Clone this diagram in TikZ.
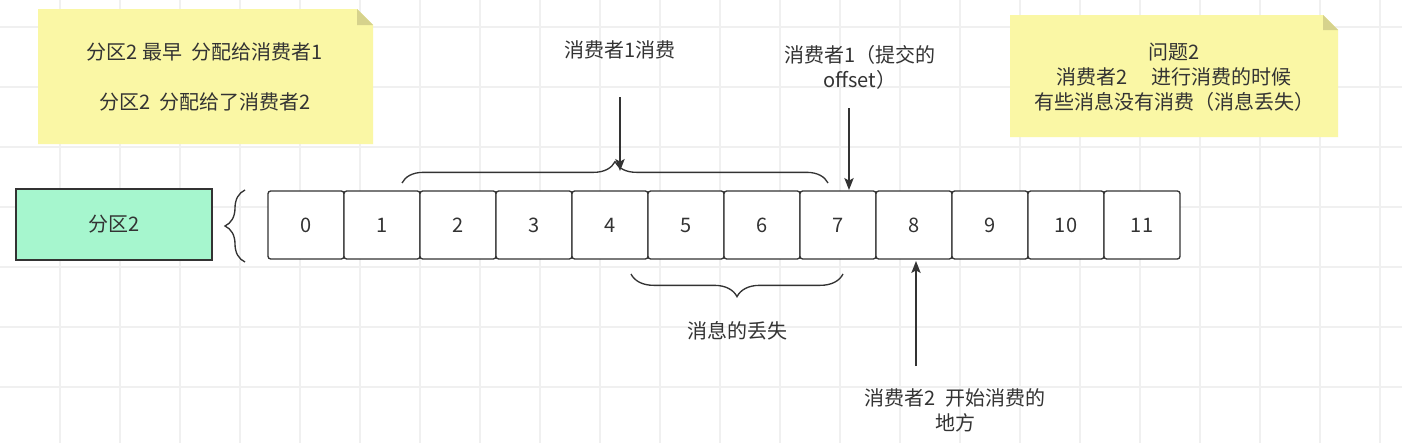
\documentclass[tikz,border=0pt]{standalone}
\usepackage{fontspec}
\setmainfont{Noto Sans CJK SC}
\usetikzlibrary{decorations.pathreplacing,arrows.meta}
\definecolor{notey}{RGB}{250,247,165}
\definecolor{notefold}{RGB}{214,210,140}
\definecolor{mint}{RGB}{166,246,206}
\definecolor{ink}{RGB}{51,51,51}
\definecolor{gridc}{RGB}{240,240,240}
\begin{document}
\begin{tikzpicture}[x=0.75pt,y=-0.75pt,
  font=\fontsize{15}{18.75}\selectfont, text=ink,
  cell/.style={draw=ink, fill=white, rounded corners=2pt, minimum width=57pt, minimum height=51pt, inner sep=0pt, line width=1pt},
  arr/.style={draw=ink, line width=1pt, -{Stealth[length=9pt,width=7pt,inset=2pt]}},
  brc/.style={draw=ink, line width=1pt, decorate},
  lbl/.style={align=center, inner sep=0pt}]
\useasboundingbox (0,0) rectangle (1402,443);
\fill[white] (0,0) rectangle (1402,443);
% grid
\foreach \x in {60,120,...,1380} \draw[gridc, line width=0.8pt] (\x,0) -- (\x,443);
\foreach \y in {27,87,...,387} \draw[gridc, line width=0.8pt] (0,\y) -- (1402,\y);
% notes
\fill[notey] (38,9) -- (357,9) -- (373,25) -- (373,144) -- (38,144) -- cycle;
\fill[notefold] (357,9) -- (357,25) -- (373,25) -- cycle;
\node[lbl] (n1) at (205,77) {分区2\ 最早\hspace{7pt}分配给消费者1\\[18.75pt]分区2\hspace{7pt}分配给了消费者2};
\fill[notey] (1010,15) -- (1323,15) -- (1338,30) -- (1338,137) -- (1010,137) -- cycle;
\fill[notefold] (1323,15) -- (1323,30) -- (1338,30) -- cycle;
\node[lbl] (n2) at (1174,77) {问题2\\消费者2\hspace{18pt}进行消费的时候\\有些消息没有消费（消息丢失）};
% partition box
\node[draw=ink, fill=mint, line width=1pt, minimum width=147pt, minimum height=53.25pt, inner sep=0pt] (p) at (114,224.5) {分区2};
% cells
\foreach \i in {0,...,11} \node[cell] (b\i) at ({306+76*\i},225) {\i};
% braces
\draw[brc, decoration={brace, amplitude=15pt}] (245,262) -- (245,190);
\draw[brc, decoration={brace, amplitude=16pt}] (402,183) -- (828,183);
\draw[brc, decoration={brace, amplitude=17pt}] (843,274) -- (631,274);
% labels
\node[lbl] (l1) at (620,50) {消费者1消费};
\node[lbl] (l2) at (860,67) {消费者1（提交的\\offset）};
\node[lbl] (l3) at (737,331) {消息的丢失};
\node[lbl] (l4) at (955,410) {消费者2\hspace{7pt}开始消费的\\地方};
% arrows
\coordinate (a1s) at (620,97);
\coordinate (a1e) at (620,171);
\draw[arr] (a1s) -- (a1e);
\coordinate (a2s) at (849,108);
\coordinate (a2e) at (849,190);
\draw[arr] (a2s) -- (a2e);
\coordinate (a3s) at (916,366);
\coordinate (a3e) at (916,261);
\draw[arr] (a3s) -- (a3e);
\end{tikzpicture}
\end{document}
